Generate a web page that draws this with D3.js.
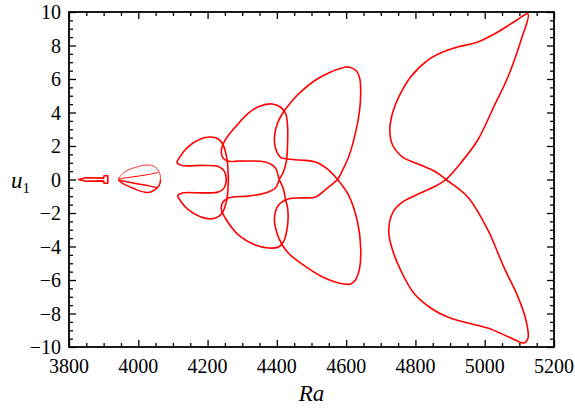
<!DOCTYPE html>
<html>
<head>
<meta charset="utf-8">
<script src="https://cdn.jsdelivr.net/npm/d3@7"></script>
<style>
  body { margin: 0; background: #fff; }
</style>
</head>
<body>
<svg id="chart" width="575" height="410"></svg>
<script>
    // tick values
    var raTicks = [3800, 4000, 4200, 4400, 4600, 4800, 5000, 5200];
    var uTicks = [-10, -8, -6, -4, -2, 0, 2, 4, 6, 8, 10];

    // solution branches, [Ra, u1]
    var branchArrow = [[3828, 0], [3848, 0.1], [3900, 0.08], [3901, 0.22], [3912, 0.22],
        [3912, -0.22], [3901, -0.22], [3900, -0.08], [3848, -0.1]];

    var dropUpperOuter = [[3942, 0.03], [3956, 0.37], [3972, 0.58], [3990, 0.71], [4019, 0.86],
        [4043, 0.81], [4057, 0.57], [4063, 0.28], [4064, 0]];
    var dropUpperInner = [[3942, 0.03], [3970, 0.12], [4000, 0.2], [4030, 0.3], [4058, 0.42]];
    var dropLowerOuter = [[3942, -0.03], [3956, -0.25], [3985, -0.52], [4019, -0.76],
        [4038, -0.73], [4057, -0.45], [4063, -0.2], [4064, 0]];
    var dropLowerInner = [[3942, -0.03], [3970, -0.15], [4000, -0.27], [4030, -0.38], [4057, -0.5]];

    var branchE = [[4112, 1.0], [4121, 1.38], [4144, 1.95], [4179, 2.42], [4208, 2.54], [4231, 2.42],
        [4245, 2.06], [4252, 1.62], [4257, 1.1], [4259, 0.5], [4260, 0], [4259, -0.5], [4257, -1.0],
        [4252, -1.5], [4245, -1.9], [4231, -2.22], [4210, -2.35], [4179, -2.22], [4144, -1.8],
        [4121, -1.25], [4114, -0.95], [4127, -0.8], [4188, -0.8], [4231, -0.75], [4248, -0.5],
        [4254, 0], [4248, 0.5], [4231, 0.78], [4188, 0.84], [4127, 0.84]];

    var branchMid = [[4407, 0], [4419, 0.45], [4428, 1.16], [4431, 2.18], [4431, 3.13], [4425, 3.97],
        [4410, 4.33], [4387, 4.51], [4352, 4.39], [4318, 3.97], [4280, 3.13], [4251, 2.36],
        [4240, 1.76], [4243, 1.34], [4257, 1.1], [4295, 1.1], [4367, 1.04], [4396, 0.69],
        [4407, 0], [4419, -0.57], [4425, -1.22], [4431, -1.7], [4431, -2.72], [4419, -3.73],
        [4405, -4.03], [4376, -4.09], [4338, -3.91], [4289, -3.31], [4251, -2.3], [4240, -1.82],
        [4243, -1.4], [4260, -1.1], [4318, -0.99], [4367, -0.81], [4396, -0.51]];

    var branchBig = [[4575, 0], [4590, 0.57], [4607, 1.34], [4627, 2.78], [4639, 4.15], [4642, 5.34],
        [4639, 6.06], [4630, 6.48], [4607, 6.72], [4578, 6.6], [4549, 6.36], [4512, 5.94],
        [4468, 5.22], [4439, 4.57], [4419, 4.03], [4402, 3.37], [4393, 2.54], [4396, 1.88],
        [4410, 1.34], [4431, 1.22], [4468, 1.16], [4512, 1.04], [4549, 0.57],
        [4575, 0], [4607, -0.93], [4633, -2.54], [4642, -4.09], [4639, -5.28], [4627, -6.0],
        [4613, -6.24], [4593, -6.24], [4532, -5.82], [4468, -4.98], [4433, -4.39], [4416, -3.91],
        [4402, -3.31], [4393, -2.3], [4405, -1.52], [4433, -1.16], [4468, -1.1], [4512, -1.04],
        [4549, -0.45]];

    var branchRight = [[4888, 0], [4931, 0.99], [4980, 2.36], [5026, 4.33], [5067, 6.12],
        [5105, 8.33], [5125, 9.88], [5084, 9.4], [5038, 8.81], [4980, 8.21], [4922, 7.91],
        [4879, 7.61], [4836, 7.13], [4786, 6.12], [4752, 4.93], [4734, 3.97], [4726, 2.96],
        [4734, 2.06], [4763, 1.34], [4815, 0.87], [4859, 0.45],
        [4888, 0], [4951, -1.04], [5009, -3.01], [5055, -5.22], [5096, -7.01], [5119, -8.39],
        [5125, -9.46], [5113, -9.76], [5076, -9.46], [5009, -8.87], [4951, -8.57], [4893, -8.21],
        [4844, -7.67], [4795, -6.78], [4757, -5.4], [4734, -4.21], [4723, -3.13], [4734, -2.0],
        [4763, -1.34], [4815, -0.81], [4864, -0.33]];

    var svg = d3.select("#chart");
    var plot = {left: 69, right: 554, top: 12, bottom: 347};

    var x = d3.scaleLinear().domain([3800, 5200]).range([plot.left, plot.right]);
    var y = d3.scaleLinear().domain([-10, 10]).range([plot.bottom, plot.top]);

    var raMinor = d3.range(3800, 5201, 50).filter(v => raTicks.indexOf(v) < 0);
    var uMinor = d3.range(-10, 10.01, 0.5).filter(v => uTicks.indexOf(v) < 0);

    // tick marks only, pointing inward on all four sides
    function addTicks(axis, tx, ty) {
        var g = svg.append("g")
            .attr("transform", "translate(" + tx + "," + ty + ")")
            .call(axis.tickFormat(""));
        g.select(".domain").remove();
        g.selectAll("text").remove();
        g.selectAll("line").attr("stroke", "#000").attr("stroke-width", 1.3);
    }
    addTicks(d3.axisBottom(x).tickValues(raTicks).tickSize(-7), 0, plot.bottom);
    addTicks(d3.axisBottom(x).tickValues(raMinor).tickSize(-4), 0, plot.bottom);
    addTicks(d3.axisTop(x).tickValues(raTicks).tickSize(-7), 0, plot.top);
    addTicks(d3.axisTop(x).tickValues(raMinor).tickSize(-4), 0, plot.top);
    addTicks(d3.axisLeft(y).tickValues(uTicks).tickSize(-7), plot.left, 0);
    addTicks(d3.axisLeft(y).tickValues(uMinor).tickSize(-4), plot.left, 0);
    addTicks(d3.axisRight(y).tickValues(uTicks).tickSize(-7), plot.right, 0);
    addTicks(d3.axisRight(y).tickValues(uMinor).tickSize(-4), plot.right, 0);

    // tick labels
    var fmt = d => d < 0 ? "\u2212" + Math.abs(d) : "" + d;
    svg.append("g").selectAll("text").data(raTicks).enter().append("text")
        .attr("x", d => x(d)).attr("y", plot.bottom + 26)
        .attr("text-anchor", "middle")
        .style("font-family", "Liberation Serif").style("font-size", "20px")
        .text(fmt);
    svg.append("g").selectAll("text").data(uTicks).enter().append("text")
        .attr("x", plot.left - 8).attr("y", d => y(d) + 7)
        .attr("text-anchor", "end")
        .style("font-family", "Liberation Serif").style("font-size", "20px")
        .text(fmt);

    svg.append("rect")
        .attr("x", plot.left).attr("y", plot.top)
        .attr("width", plot.right - plot.left).attr("height", plot.bottom - plot.top)
        .attr("fill", "none").attr("stroke", "#000").attr("stroke-width", 1.8);

    // branches
    var smooth = d3.line().x(d => x(d[0])).y(d => y(d[1])).curve(d3.curveCatmullRomClosed.alpha(0.5));
    var open = d3.line().x(d => x(d[0])).y(d => y(d[1])).curve(d3.curveCatmullRom.alpha(0.5));
    var straight = d3.line().x(d => x(d[0])).y(d => y(d[1])).curve(d3.curveLinearClosed);

    var curves = svg.append("g").attr("fill", "none").attr("stroke", "#ff0000")
        .attr("stroke-linejoin", "round");

    curves.append("path").attr("d", straight(branchArrow)).attr("stroke-width", 1.6);
    curves.append("path").attr("d", open(dropUpperOuter)).attr("stroke-width", 0.8);
    curves.append("path").attr("d", open(dropUpperInner)).attr("stroke-width", 1.0);
    curves.append("path").attr("d", open(dropLowerOuter)).attr("stroke-width", 1.5);
    curves.append("path").attr("d", open(dropLowerInner)).attr("stroke-width", 1.5);
    [branchE, branchMid, branchBig, branchRight].forEach(function(b) {
        curves.append("path").attr("d", smooth(b)).attr("stroke-width", 1.6);
    });

    // axis titles
    svg.append("text")
        .attr("x", (plot.left + plot.right) / 2).attr("y", 401)
        .attr("text-anchor", "middle")
        .style("font-family", "Liberation Serif").style("font-size", "23px").style("font-style", "italic")
        .text("Ra");

    var ut = svg.append("text").attr("x", 11).attr("y", 188)
        .style("font-family", "Liberation Serif").style("font-size", "23px");
    ut.append("tspan").style("font-style", "italic").text("u");
    ut.append("tspan").style("font-size", "15px").attr("dy", 5).text("1");
</script>
</body>
</html>
